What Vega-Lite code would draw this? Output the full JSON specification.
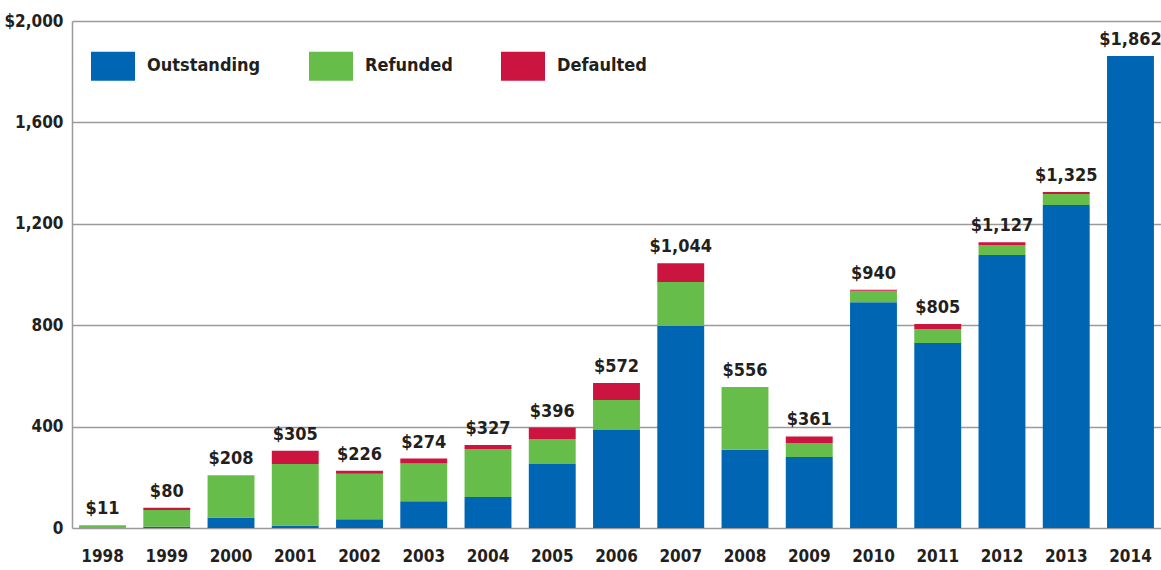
{
  "$schema": "https://vega.github.io/schema/vega-lite/v6.json",
  "width": 1089,
  "height": 507,
  "autosize": {"type": "none"},
  "padding": {"left": 72, "top": 21, "right": 0, "bottom": 42},
  "background": "white",
  "config": {
    "view": {"stroke": null},
    "font": "DejaVu Sans Condensed, Liberation Sans, sans-serif",
    "axis": {"labelFont": "DejaVu Sans Condensed, Liberation Sans, sans-serif", "labelFontWeight": "bold", "labelColor": "#231f20", "labelFontSize": 17}
  },
  "datasets": {
    "segments": [
      {"year": "1998", "type": "Outstanding", "value": 0},
      {"year": "1998", "type": "Refunded", "value": 11},
      {"year": "1998", "type": "Defaulted", "value": 0},
      {"year": "1999", "type": "Outstanding", "value": 5},
      {"year": "1999", "type": "Refunded", "value": 66},
      {"year": "1999", "type": "Defaulted", "value": 9},
      {"year": "2000", "type": "Outstanding", "value": 41},
      {"year": "2000", "type": "Refunded", "value": 167},
      {"year": "2000", "type": "Defaulted", "value": 0},
      {"year": "2001", "type": "Outstanding", "value": 10},
      {"year": "2001", "type": "Refunded", "value": 242},
      {"year": "2001", "type": "Defaulted", "value": 53},
      {"year": "2002", "type": "Outstanding", "value": 35},
      {"year": "2002", "type": "Refunded", "value": 179},
      {"year": "2002", "type": "Defaulted", "value": 12},
      {"year": "2003", "type": "Outstanding", "value": 106},
      {"year": "2003", "type": "Refunded", "value": 148},
      {"year": "2003", "type": "Defaulted", "value": 20},
      {"year": "2004", "type": "Outstanding", "value": 122},
      {"year": "2004", "type": "Refunded", "value": 189},
      {"year": "2004", "type": "Defaulted", "value": 16},
      {"year": "2005", "type": "Outstanding", "value": 252},
      {"year": "2005", "type": "Refunded", "value": 99},
      {"year": "2005", "type": "Defaulted", "value": 45},
      {"year": "2006", "type": "Outstanding", "value": 387},
      {"year": "2006", "type": "Refunded", "value": 118},
      {"year": "2006", "type": "Defaulted", "value": 67},
      {"year": "2007", "type": "Outstanding", "value": 797},
      {"year": "2007", "type": "Refunded", "value": 173},
      {"year": "2007", "type": "Defaulted", "value": 74},
      {"year": "2008", "type": "Outstanding", "value": 309},
      {"year": "2008", "type": "Refunded", "value": 247},
      {"year": "2008", "type": "Defaulted", "value": 0},
      {"year": "2009", "type": "Outstanding", "value": 280},
      {"year": "2009", "type": "Refunded", "value": 55},
      {"year": "2009", "type": "Defaulted", "value": 26},
      {"year": "2010", "type": "Outstanding", "value": 891},
      {"year": "2010", "type": "Refunded", "value": 45},
      {"year": "2010", "type": "Defaulted", "value": 4},
      {"year": "2011", "type": "Outstanding", "value": 730},
      {"year": "2011", "type": "Refunded", "value": 55},
      {"year": "2011", "type": "Defaulted", "value": 20},
      {"year": "2012", "type": "Outstanding", "value": 1077},
      {"year": "2012", "type": "Refunded", "value": 39},
      {"year": "2012", "type": "Defaulted", "value": 11},
      {"year": "2013", "type": "Outstanding", "value": 1274},
      {"year": "2013", "type": "Refunded", "value": 44},
      {"year": "2013", "type": "Defaulted", "value": 7},
      {"year": "2014", "type": "Outstanding", "value": 1862},
      {"year": "2014", "type": "Refunded", "value": 0},
      {"year": "2014", "type": "Defaulted", "value": 0}
    ],
    "totals": [
      {"year": "1998", "total": 11},
      {"year": "1999", "total": 80},
      {"year": "2000", "total": 208},
      {"year": "2001", "total": 305},
      {"year": "2002", "total": 226},
      {"year": "2003", "total": 274},
      {"year": "2004", "total": 327},
      {"year": "2005", "total": 396},
      {"year": "2006", "total": 572},
      {"year": "2007", "total": 1044},
      {"year": "2008", "total": 556},
      {"year": "2009", "total": 361},
      {"year": "2010", "total": 940},
      {"year": "2011", "total": 805},
      {"year": "2012", "total": 1127},
      {"year": "2013", "total": 1325},
      {"year": "2014", "total": 1862}
    ]
  },
  "encoding": {
    "x": {
      "field": "year", "type": "nominal",
      "scale": {"paddingInner": 0.27, "paddingOuter": 0.11},
      "axis": {"title": null, "labelAngle": 0, "domain": false, "ticks": false, "labelPadding": 20, "labelFontSize": 17}
    }
  },
  "layer": [
    {
      "data": {"name": "segments"},
      "transform": [
        {"calculate": "indexof(['Outstanding', 'Refunded', 'Defaulted'], datum.type)", "as": "stack_rank"}
      ],
      "mark": {"type": "bar"},
      "encoding": {
        "y": {
          "field": "value", "type": "quantitative", "stack": "zero",
          "scale": {"domain": [0, 2000], "nice": false},
          "axis": {
            "title": null, "values": [0, 400, 800, 1200, 1600, 2000],
            "labelExpr": "datum.value == 2000 ? '$2,000' : format(datum.value, ',')",
            "ticks": false, "labelPadding": 9,
            "domainColor": "#9a9a9a", "domainWidth": 1.5,
            "gridColor": "#9a9a9a", "gridWidth": 1.5
          }
        },
        "color": {
          "field": "type", "type": "nominal",
          "sort": ["Outstanding", "Refunded", "Defaulted"],
          "scale": {"domain": ["Outstanding", "Refunded", "Defaulted"], "range": ["#0066b3", "#66bd4a", "#cc1440"]},
          "legend": {
            "title": null, "orient": "none", "legendX": 19, "legendY": 23,
            "direction": "horizontal",
            "symbolType": "M-1,-0.66L1,-0.66L1,0.66L-1,0.66Z",
            "symbolSize": 1936, "symbolStrokeWidth": 0, "symbolOpacity": 1,
            "labelFont": "DejaVu Sans Condensed, Liberation Sans, sans-serif", "labelFontSize": 18, "labelFontWeight": "bold", "labelColor": "#231f20",
            "labelOffset": 12, "columnPadding": 48
          }
        },
        "order": {"field": "stack_rank", "type": "quantitative", "sort": "ascending"}
      }
    },
    {
      "data": {"name": "totals"},
      "mark": {"type": "text", "baseline": "bottom", "dy": -7, "fontSize": 18, "fontWeight": "bold", "color": "#231f20", "font": "DejaVu Sans Condensed, Liberation Sans, sans-serif"},
      "encoding": {
        "y": {"field": "total", "type": "quantitative"},
        "text": {"field": "total", "type": "quantitative", "format": "$,"}
      }
    }
  ]
}
